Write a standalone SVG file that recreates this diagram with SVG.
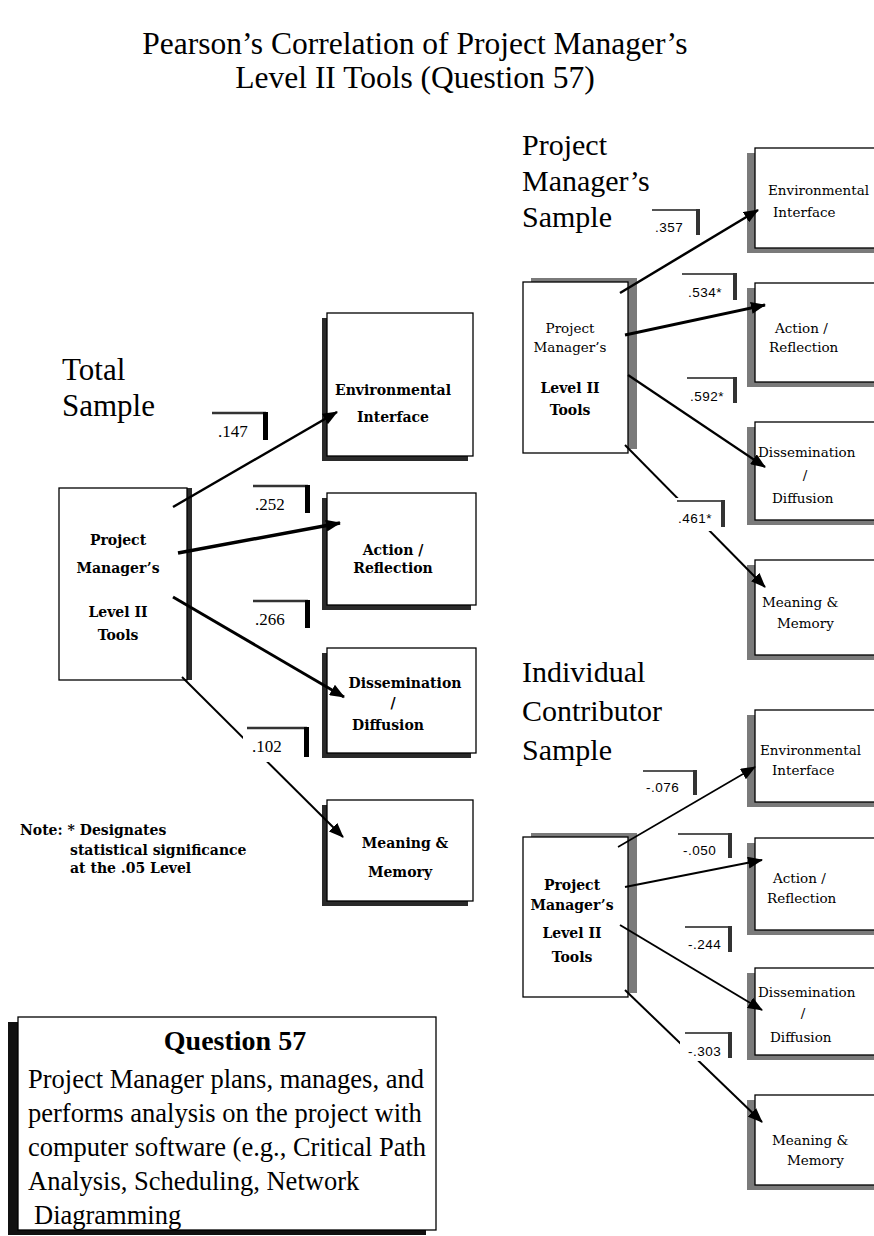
<svg xmlns="http://www.w3.org/2000/svg" width="874" height="1236" viewBox="0 0 874 1236">
<style>
.bg{fill:#fff}
.ttl{font-family:"Liberation Serif","Times New Roman",serif;fill:#000}
.box{fill:#fff;stroke:#000;stroke-width:1.3}
.shL{fill:#2a2a2a}
.shR{fill:#7a7a7a}
.nb{font-family:"DejaVu Serif",serif;font-weight:bold;font-size:14px;fill:#000}
.nr{font-family:"DejaVu Serif",serif;font-size:13.5px;fill:#000}
.ln{stroke:#000;fill:none}
.lblbg{fill:#fff}
.lbltop{stroke:#333;stroke-width:2.5;fill:none}
.lblbar{fill:#000}
.lbltopR{stroke:#555;stroke-width:2;fill:none}
.lblbarR{fill:#333}
.lt{font-family:"Liberation Serif","Times New Roman",serif;font-size:17px;fill:#000}
.ltR{font-family:"Liberation Sans",Arial,sans-serif;font-size:13.5px;fill:#000;letter-spacing:0.5px}
</style>
<defs>
<marker id="ah" markerUnits="userSpaceOnUse" markerWidth="15" markerHeight="12" refX="14" refY="6" orient="auto"><path d="M0,0 L15,6 L0,12 z" fill="#000"/></marker>
</defs>
<rect class="bg" x="0" y="0" width="874" height="1236"/>

<g id="title">
<text class="ttl" x="415" y="54" font-size="31.5" text-anchor="middle">Pearson’s Correlation of Project Manager’s</text>
<text class="ttl" x="415" y="88" font-size="31.5" text-anchor="middle">Level II Tools (Question 57)</text>
</g>

<g id="headers">
<text class="ttl" x="62" y="380" font-size="31">Total</text>
<text class="ttl" x="62" y="416" font-size="31">Sample</text>
<text class="ttl" x="522" y="155" font-size="30">Project</text>
<text class="ttl" x="522" y="191" font-size="30">Manager’s</text>
<text class="ttl" x="522" y="227" font-size="30">Sample</text>
<text class="ttl" x="522" y="682" font-size="30">Individual</text>
<text class="ttl" x="522" y="721" font-size="30">Contributor</text>
<text class="ttl" x="522" y="760" font-size="30">Sample</text>
</g>

<!-- Total sample nodes -->
<g id="t-src">
<rect class="shL" x="64" y="488" width="128" height="192"/>
<rect class="box" x="59" y="488" width="128" height="192"/>
<text class="nb" x="118" y="545" text-anchor="middle">Project</text>
<text class="nb" x="118" y="573" text-anchor="middle">Manager’s</text>
<text class="nb" x="118" y="617" text-anchor="middle">Level II</text>
<text class="nb" x="118" y="640" text-anchor="middle">Tools</text>
</g>
<g id="t-env">
<rect class="shL" x="322" y="318" width="146" height="143"/>
<rect class="box" x="327" y="313" width="146" height="143"/>
<text class="nb" x="393" y="395" text-anchor="middle">Environmental</text>
<text class="nb" x="393" y="422" text-anchor="middle">Interface</text>
</g>
<g id="t-act">
<rect class="shL" x="322" y="498" width="149" height="112"/>
<rect class="box" x="327" y="493" width="149" height="112"/>
<text class="nb" x="393" y="555" text-anchor="middle">Action /</text>
<text class="nb" x="393" y="573" text-anchor="middle">Reflection</text>
</g>
<g id="t-dis">
<rect class="shL" x="322" y="653" width="149" height="105"/>
<rect class="box" x="327" y="648" width="149" height="105"/>
<text class="nb" x="405" y="688" text-anchor="middle">Dissemination</text>
<text class="nb" x="393" y="708" text-anchor="middle">/</text>
<text class="nb" x="388" y="730" text-anchor="middle">Diffusion</text>
</g>
<g id="t-mem">
<rect class="shL" x="322" y="805" width="146" height="101"/>
<rect class="box" x="327" y="800" width="146" height="101"/>
<text class="nb" x="405" y="848" text-anchor="middle">Meaning &amp;</text>
<text class="nb" x="400" y="877" text-anchor="middle">Memory</text>
</g>

<!-- PM sample nodes -->
<g id="p-src">
<rect class="shR" x="531" y="278" width="106" height="171"/>
<rect class="box" x="523" y="282" width="105" height="171"/>
<text class="nr" x="570" y="333" text-anchor="middle">Project</text>
<text class="nr" x="570" y="352" text-anchor="middle">Manager’s</text>
<text class="nb" x="570" y="393" text-anchor="middle">Level II</text>
<text class="nb" x="570" y="415" text-anchor="middle">Tools</text>
</g>
<g id="p-env">
<rect class="shR" x="747" y="153" width="140" height="100"/>
<rect class="box" x="755" y="148" width="140" height="100"/>
<text class="nr" x="768" y="195">Environmental</text>
<text class="nr" x="773" y="217">Interface</text>
</g>
<g id="p-act">
<rect class="shR" x="747" y="288" width="140" height="99"/>
<rect class="box" x="755" y="283" width="140" height="99"/>
<text class="nr" x="775" y="333">Action /</text>
<text class="nr" x="769" y="352">Reflection</text>
</g>
<g id="p-dis">
<rect class="shR" x="747" y="427" width="140" height="98"/>
<rect class="box" x="755" y="422" width="140" height="98"/>
<text class="nr" x="758" y="457">Dissemination</text>
<text class="nr" x="805" y="480" text-anchor="middle">/</text>
<text class="nr" x="772" y="503">Diffusion</text>
</g>
<g id="p-mem">
<rect class="shR" x="747" y="565" width="140" height="95"/>
<rect class="box" x="755" y="560" width="140" height="95"/>
<text class="nr" x="762" y="607">Meaning &amp;</text>
<text class="nr" x="777" y="628">Memory</text>
</g>

<!-- Individual contributor nodes -->
<g id="i-src">
<rect class="shR" x="531" y="833" width="106" height="160"/>
<rect class="box" x="523" y="837" width="105" height="160"/>
<text class="nb" x="572" y="890" text-anchor="middle">Project</text>
<text class="nb" x="572" y="910" text-anchor="middle">Manager’s</text>
<text class="nb" x="572" y="938" text-anchor="middle">Level II</text>
<text class="nb" x="572" y="962" text-anchor="middle">Tools</text>
</g>
<g id="i-env">
<rect class="shR" x="747" y="715" width="140" height="92"/>
<rect class="box" x="755" y="710" width="140" height="92"/>
<text class="nr" x="760" y="755">Environmental</text>
<text class="nr" x="772" y="775">Interface</text>
</g>
<g id="i-act">
<rect class="shR" x="747" y="843" width="140" height="92"/>
<rect class="box" x="755" y="838" width="140" height="92"/>
<text class="nr" x="773" y="883">Action /</text>
<text class="nr" x="767" y="903">Reflection</text>
</g>
<g id="i-dis">
<rect class="shR" x="747" y="973" width="140" height="87"/>
<rect class="box" x="755" y="968" width="140" height="87"/>
<text class="nr" x="758" y="997">Dissemination</text>
<text class="nr" x="803" y="1018" text-anchor="middle">/</text>
<text class="nr" x="770" y="1042">Diffusion</text>
</g>
<g id="i-mem">
<rect class="shR" x="747" y="1100" width="140" height="90"/>
<rect class="box" x="755" y="1095" width="140" height="90"/>
<text class="nr" x="772" y="1145">Meaning &amp;</text>
<text class="nr" x="787" y="1165">Memory</text>
</g>

<g id="connectors">
<!-- total -->
<line class="ln" x1="173" y1="507" x2="337" y2="412" stroke-width="2.5" marker-end="url(#ah)"/>
<line class="ln" x1="178" y1="553" x2="340" y2="523" stroke-width="3.5" marker-end="url(#ah)"/>
<line class="ln" x1="173" y1="597" x2="344" y2="697" stroke-width="3" marker-end="url(#ah)"/>
<line class="ln" x1="182" y1="677" x2="343" y2="837" stroke-width="2" marker-end="url(#ah)"/>
<!-- PM -->
<line class="ln" x1="620" y1="293" x2="758" y2="210" stroke-width="2.5" marker-end="url(#ah)"/>
<line class="ln" x1="625" y1="335" x2="765" y2="305" stroke-width="3" marker-end="url(#ah)"/>
<line class="ln" x1="628" y1="375" x2="765" y2="467" stroke-width="2.2" marker-end="url(#ah)"/>
<line class="ln" x1="625" y1="445" x2="765" y2="587" stroke-width="2" marker-end="url(#ah)"/>
<!-- IC -->
<line class="ln" x1="618" y1="847" x2="755" y2="767" stroke-width="1.6" marker-end="url(#ah)"/>
<line class="ln" x1="625" y1="887" x2="762" y2="860" stroke-width="2.2" marker-end="url(#ah)"/>
<line class="ln" x1="620" y1="925" x2="762" y2="1010" stroke-width="2" marker-end="url(#ah)"/>
<line class="ln" x1="625" y1="990" x2="762" y2="1122" stroke-width="2" marker-end="url(#ah)"/>

<!-- labels total -->
<g id="l147"><rect class="lblbg" x="212" y="412" width="56" height="28"/><path class="lbltop" d="M212,413 H266"/><rect class="lblbar" x="263" y="412" width="5" height="28"/><text class="lt" x="218" y="437">.147</text></g>
<g id="l252"><rect class="lblbg" x="253" y="485" width="57" height="28"/><path class="lbltop" d="M253,486 H308"/><rect class="lblbar" x="305" y="485" width="5" height="28"/><text class="lt" x="255" y="510">.252</text></g>
<g id="l266"><rect class="lblbg" x="253" y="600" width="57" height="28"/><path class="lbltop" d="M253,601 H308"/><rect class="lblbar" x="305" y="600" width="5" height="28"/><text class="lt" x="255" y="625">.266</text></g>
<g id="l102"><rect class="lblbg" x="243" y="727" width="66" height="35"/><path class="lbltop" d="M247,728 H307"/><rect class="lblbar" x="304" y="727" width="5" height="30"/><text class="lt" x="252" y="752">.102</text></g>
<!-- labels PM -->
<g id="l357"><rect class="lblbg" x="652" y="209" width="48" height="26"/><path class="lbltopR" d="M652,210 H698"/><rect class="lblbarR" x="696" y="209" width="4" height="26"/><text class="ltR" x="655" y="232">.357</text></g>
<g id="l534"><rect class="lblbg" x="682" y="273" width="55" height="27"/><path class="lbltopR" d="M682,274 H735"/><rect class="lblbarR" x="733" y="273" width="4" height="27"/><text class="ltR" x="688" y="297">.534*</text></g>
<g id="l592"><rect class="lblbg" x="687" y="377" width="50" height="26"/><path class="lbltopR" d="M687,378 H735"/><rect class="lblbarR" x="733" y="377" width="4" height="26"/><text class="ltR" x="690" y="401">.592*</text></g>
<g id="l461"><rect class="lblbg" x="675" y="498" width="50" height="33"/><path class="lbltopR" d="M677,501 H723"/><rect class="lblbarR" x="721" y="500" width="4" height="27"/><text class="ltR" x="678" y="523">.461*</text></g>
<!-- labels IC -->
<g id="l076"><rect class="lblbg" x="643" y="770" width="54" height="25"/><path class="lbltopR" d="M643,771 H695"/><rect class="lblbarR" x="693" y="770" width="4" height="25"/><text class="ltR" x="646" y="792">-.076</text></g>
<g id="l050"><rect class="lblbg" x="678" y="833" width="54" height="25"/><path class="lbltopR" d="M678,834 H730"/><rect class="lblbarR" x="728" y="833" width="4" height="25"/><text class="ltR" x="683" y="855">-.050</text></g>
<g id="l244"><rect class="lblbg" x="685" y="926" width="47" height="26"/><path class="lbltopR" d="M685,927 H730"/><rect class="lblbarR" x="728" y="926" width="4" height="26"/><text class="ltR" x="688" y="949">-.244</text></g>
<g id="l303"><rect class="lblbg" x="680" y="1032" width="52" height="29"/><path class="lbltopR" d="M685,1033 H730"/><rect class="lblbarR" x="728" y="1032" width="4" height="26"/><text class="ltR" x="688" y="1056">-.303</text></g>
</g>

<g id="note">
<text class="nb" x="20" y="835" font-size="13">Note: * Designates</text>
<text class="nb" x="70" y="855" font-size="13">statistical significance</text>
<text class="nb" x="70" y="873" font-size="13">at the .05 Level</text>
</g>

<g id="question">
<rect fill="#111" x="8" y="1022" width="418" height="213"/>
<rect class="box" x="18" y="1017" width="418" height="213"/>
<text class="ttl" x="235" y="1050" font-size="28" font-weight="bold" text-anchor="middle">Question 57</text>
<text class="ttl" x="28" y="1088" font-size="26.5">Project Manager plans, manages, and</text>
<text class="ttl" x="28" y="1122" font-size="26.5">performs analysis on the project with</text>
<text class="ttl" x="28" y="1156" font-size="26.5">computer software (e.g., Critical Path</text>
<text class="ttl" x="28" y="1190" font-size="26.5">Analysis, Scheduling, Network</text>
<text class="ttl" x="34" y="1224" font-size="26.5">Diagramming</text>
</g>
</svg>
